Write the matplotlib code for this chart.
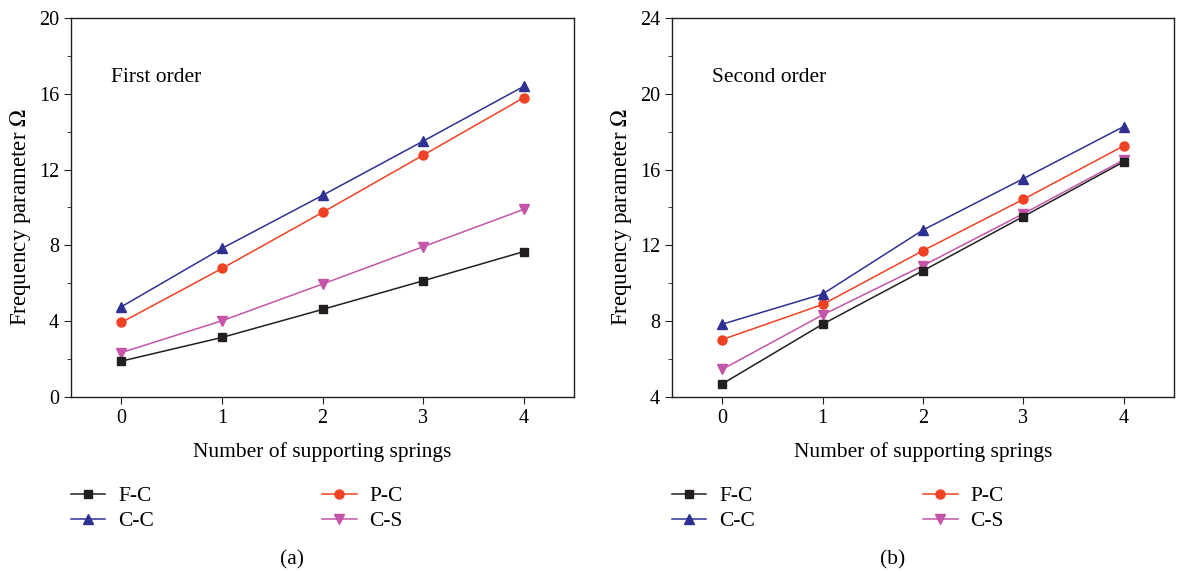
import matplotlib
matplotlib.use("Agg")
import matplotlib.pyplot as plt
from matplotlib.ticker import MultipleLocator

plt.rcParams['font.family'] = ['Liberation Serif', 'DejaVu Serif']
plt.rcParams['mathtext.fontset'] = 'stix'

springs = [0, 1, 2, 3, 4]
labels = ["F-C", "P-C", "C-C", "C-S"]

first_fc = [1.89, 3.14, 4.62, 6.13, 7.67]
first_pc = [3.93, 6.78, 9.74, 12.76, 15.79]
first_cc = [4.76, 7.84, 10.64, 13.50, 16.39]
first_cs = [2.34, 4.02, 5.96, 7.93, 9.90]

second_fc = [4.69, 7.84, 10.66, 13.52, 16.41]
second_pc = [7.03, 8.88, 11.72, 14.43, 17.25]
second_cc = [7.84, 9.43, 12.81, 15.52, 18.27]
second_cs = [5.46, 8.33, 10.93, 13.67, 16.51]

colors = {"F-C": "#231F20", "P-C": "#EF4123", "C-C": "#2E3192", "C-S": "#C455A8"}
markers = {"F-C": "s", "P-C": "o", "C-C": "^", "C-S": "v"}
msizes = {"F-C": 5.5, "P-C": 6.5, "C-C": 7.0, "C-S": 7.0}

fig = plt.figure(figsize=(11.78, 5.72), dpi=100)
ax1 = fig.add_axes([0.0603, 0.306, 0.427, 0.6626])
ax2 = fig.add_axes([0.5705, 0.306, 0.426, 0.6626])

panels = [
    (ax1, {"F-C": first_fc, "P-C": first_pc, "C-C": first_cc, "C-S": first_cs},
     (0, 20), 4, "First order", 16.85, "(a)"),
    (ax2, {"F-C": second_fc, "P-C": second_pc, "C-C": second_cc, "C-S": second_cs},
     (4, 24), 4, "Second order", 20.85, "(b)"),
]

fs = 15.5
tfs = 14.5
for ax, data, ylim, step, title, ty, cap in panels:
    handles = {}
    for lab in ["C-S", "F-C", "P-C", "C-C"]:
        h, = ax.plot(springs, data[lab], color=colors[lab], marker=markers[lab],
                     markersize=msizes[lab], linewidth=1.1, label=lab)
        handles[lab] = h
    ax.set_xlim(-0.5, 4.5)
    ax.set_ylim(*ylim)
    ax.set_xticks(springs)
    ax.yaxis.set_major_locator(MultipleLocator(step))
    ax.yaxis.set_minor_locator(MultipleLocator(step / 2))
    ax.tick_params(axis='both', which='both', direction='out', top=False, right=False,
                   labelsize=tfs, color='#231F20')
    ax.tick_params(which='major', length=5)
    ax.tick_params(which='minor', length=3)
    for sp in ax.spines.values():
        sp.set_linewidth(1.0)
        sp.set_color('#231F20')
    ax.set_xlabel("Number of supporting springs", fontsize=fs, labelpad=10)
    ax.set_ylabel("Frequency parameter $\\Omega$", fontsize=16.5, labelpad=4.5)
    ax.yaxis.label.set_y(0.474)
    ax.text(-0.1, ty, title, fontsize=fs, va='center', ha='left')
    order = ["F-C", "C-C", "P-C", "C-S"]
    ax.legend([handles[k] for k in order], order, ncol=2, loc='upper left',
              bbox_to_anchor=(0.0, -0.236), frameon=False, fontsize=fs,
              handlelength=1.6, handletextpad=0.6, labelspacing=0.22,
              columnspacing=7.8, borderaxespad=0, borderpad=0)
    pos = ax.get_position()
    fig.text(pos.x0 + pos.width * 0.44, 0.021, cap, fontsize=fs, ha='center', va='center')

fig.savefig("out.png", dpi=100)
